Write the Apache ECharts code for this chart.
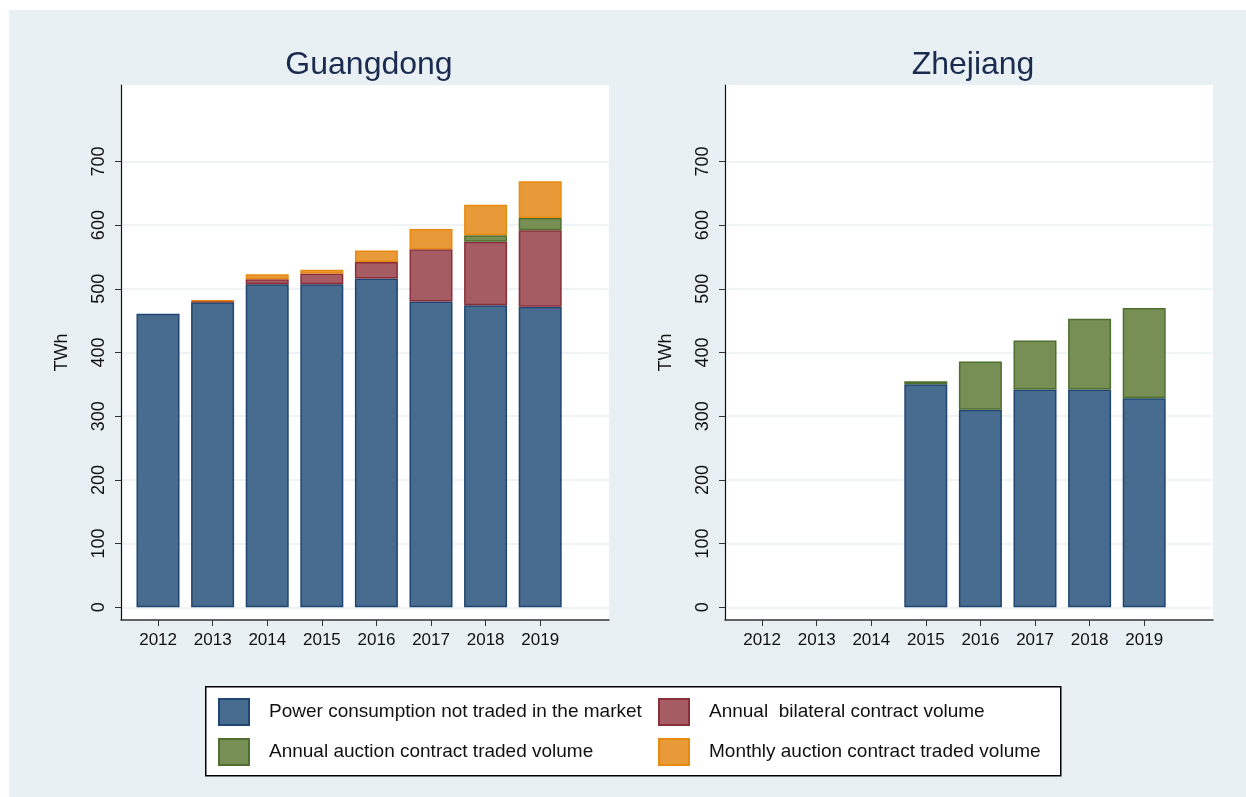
<!DOCTYPE html>
<html>
<head>
<meta charset="utf-8">
<script src="https://cdn.jsdelivr.net/npm/echarts@6/dist/echarts.min.js"></script>
<style>
  html,body{margin:0;padding:0;background:#fff;}
  #bg{position:absolute;left:9px;top:10px;width:1237px;height:787px;background:#e8f0f3;}
  #main{position:absolute;left:0;top:0;width:1246px;height:797px;}
</style>
</head>
<body>
<div id="bg"></div>
<div id="main"></div>
<script>
// data
var years = ['2012', '2013', '2014', '2015', '2016', '2017', '2018', '2019'];
var yearTicks = [2012, 2013, 2014, 2015, 2016, 2017, 2018, 2019];
var yTicks = [0, 100, 200, 300, 400, 500, 600, 700];
var seriesNames = [
  'Power consumption not traded in the market',
  'Annual  bilateral contract volume',
  'Annual auction contract traded volume',
  'Monthly auction contract traded volume'
];
// Guangdong
var gdNotTraded = [461, 479, 507, 507, 516, 480, 474, 472];
var gdBilateral = [null, 1, 8, 17, 26, 82, 100, 120];
var gdAnnualAuction = [null, null, null, null, null, null, 10, 19];
var gdMonthly = [null, 2.5, 8, 6, 18, 32, 48, 58];
// Zhejiang
var zjNotTraded = [null, null, null, 350, 310, 342, 342, 328];
var zjAnnualAuction = [null, null, null, 5, 76, 77, 111, 142];

var colors = ['#486c8f', '#a55c63', '#778f55', '#e99a38'];
var borders = ['#1e4670', '#8c2e3a', '#4f6f2f', '#e98a10'];
var font = 'Liberation Sans';

function bar(idx, gi, stack, vals){
  return {
    name: seriesNames[idx],
    type: 'bar',
    xAxisIndex: gi,
    yAxisIndex: gi,
    stack: stack,
    barWidth: 43,
    itemStyle: {color: colors[idx], borderColor: borders[idx], borderWidth: 1.5},
    data: vals
  };
}

// frame grids (0,1): axis lines, ticks, labels, gridlines; bar grids (2,3): hidden category axis for stacking
function frameX(gi){
  return {
    type: 'value', gridIndex: gi, min: 2011.32, max: 2020.26,
    axisLine: {show: true, onZero: false, lineStyle: {color: '#333', width: 1.5}},
    axisTick: {show: true, length: 6, customValues: yearTicks, lineStyle: {color: '#333'}},
    axisLabel: {customValues: yearTicks, fontSize: 17, color: '#111', margin: 12, fontFamily: font,
      formatter: function (v) { return String(v); }},
    splitLine: {show: false}
  };
}
function frameY(gi){
  return {
    type: 'value', gridIndex: gi, min: -20, max: 820,
    name: 'TWh', nameLocation: 'middle', nameRotate: 90, nameGap: 50,
    nameTextStyle: {fontSize: 18, color: '#111', fontFamily: font},
    axisLine: {show: true, lineStyle: {color: '#111', width: 1.2}},
    axisTick: {show: true, length: 6, customValues: yTicks, lineStyle: {color: '#333'}},
    axisLabel: {customValues: yTicks, rotate: 90, fontSize: 18, color: '#111', margin: 13, fontFamily: font},
    splitLine: {show: true, lineStyle: {color: '#e8eff3', width: 1.5}}
  };
}
function barX(gi){
  return {type: 'category', gridIndex: gi, data: years, show: false};
}
function barY(gi){
  return {type: 'value', gridIndex: gi, min: -20, max: 820, show: false};
}

var chart = echarts.init(document.getElementById('main'));
chart.setOption({
  animation: false,
  textStyle: {fontFamily: font},
  title: [
    {text: 'Guangdong', left: 364, top: 44, textAlign: 'center',
     textStyle: {fontSize: 32, fontWeight: 'normal', color: '#1a2b4f', fontFamily: font}},
    {text: 'Zhejiang', left: 968, top: 44, textAlign: 'center',
     textStyle: {fontSize: 32, fontWeight: 'normal', color: '#1a2b4f', fontFamily: font}}
  ],
  grid: [
    {left: 121, top: 85, width: 488, height: 535, show: true, backgroundColor: '#fff', borderWidth: 0},
    {left: 725, top: 85, width: 488, height: 535, show: true, backgroundColor: '#fff', borderWidth: 0},
    {left: 130.7, top: 85, width: 436.8, height: 535},
    {left: 734.7, top: 85, width: 436.8, height: 535}
  ],
  xAxis: [frameX(0), frameX(1), barX(2), barX(3)],
  yAxis: [frameY(0), frameY(1), barY(2), barY(3)],
  graphic: [{
    type: 'rect', left: 205, top: 686, z: -1,
    shape: {width: 855, height: 89},
    style: {fill: '#fff', stroke: '#000', lineWidth: 1.5}
  }],
  legend: [
    {data: [seriesNames[0], seriesNames[2]], orient: 'vertical', left: 218, top: 698, padding: 0,
     icon: 'rect', itemWidth: 30, itemHeight: 26, itemGap: 12, selectedMode: false,
     textStyle: {fontSize: 19, color: '#111', padding: [0, 0, 0, 15], fontFamily: font}},
    {data: [seriesNames[1], seriesNames[3]], orient: 'vertical', left: 658, top: 698, padding: 0,
     icon: 'rect', itemWidth: 30, itemHeight: 26, itemGap: 12, selectedMode: false,
     textStyle: {fontSize: 19, color: '#111', padding: [0, 0, 0, 15], fontFamily: font}}
  ],
  series: [
    bar(0, 2, 'gd', gdNotTraded),
    bar(1, 2, 'gd', gdBilateral),
    bar(2, 2, 'gd', gdAnnualAuction),
    bar(3, 2, 'gd', gdMonthly),
    bar(0, 3, 'zj', zjNotTraded),
    bar(2, 3, 'zj', zjAnnualAuction)
  ]
});
</script>
</body>
</html>
